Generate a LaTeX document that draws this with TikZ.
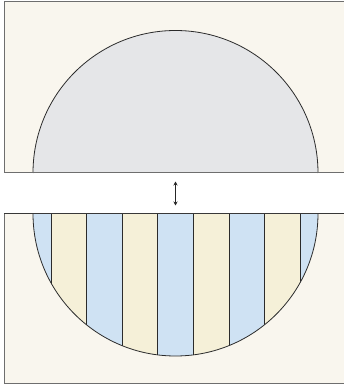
\documentclass[tikz,border=0pt]{standalone}
\usetikzlibrary{arrows.meta}
\definecolor{panelbg}{HTML}{F9F6EE}
\definecolor{panelline}{HTML}{6E6E6E}
\definecolor{greyfill}{HTML}{E5E6E8}
\definecolor{stripeblue}{HTML}{CFE2F3}
\definecolor{stripeyellow}{HTML}{F5F0D8}
\definecolor{outline}{HTML}{2B2B2B}
\tikzset{
  panel/.style={fill=panelbg, draw=panelline, line width=1pt},
  halfdisc/.style={draw=outline, line width=0.8pt},
  stripeline/.style={draw=outline, line width=0.8pt},
  gaparrow/.style={{Stealth[length=4pt,width=4pt]}-{Stealth[length=4pt,width=4pt]}, line width=0.6pt, draw=black!85}
}
\begin{document}
\begin{tikzpicture}[x=1pt,y=1pt]
\clip (0,0) rectangle (344,389);
\fill[white] (0,0) rectangle (344,389);
% top panel
\draw[panel] (4,216) rectangle (350,387);
\fill[greyfill] (33,216) arc[start angle=180,end angle=0,radius=142.5] -- cycle;
\draw[halfdisc] (33,216) arc[start angle=180,end angle=0,radius=142.5];
\draw[panelline, line width=1pt] (4,216) -- (350,216);
% bottom panel
\draw[panel] (4,5) rectangle (350,175.5);
\fill[stripeblue] (33,175.5) arc[start angle=180,end angle=360,radius=142.5] -- cycle;
\begin{scope}
  \clip (33,175.5) arc[start angle=180,end angle=360,radius=142.5] -- cycle;
  \foreach \a in {51.0,122.2,193.4,264.6}{
    \fill[stripeyellow] (\a,0) rectangle ({\a+35.6},200);
  }
  \foreach \a in {51.0,86.6,122.2,157.8,193.4,229.0,264.6,300.2}{
    \draw[stripeline] (\a,0) -- (\a,200);
  }
\end{scope}
\draw[halfdisc] (33,175.5) arc[start angle=180,end angle=360,radius=142.5];
\draw[outline!80!panelline, line width=1pt] (4,175.5) -- (350,175.5);
% arrow
\coordinate (gaptop) at (175.5,207.5);
\coordinate (gapbot) at (175.5,183.5);
\draw[gaparrow] (gaptop) -- (gapbot);
\end{tikzpicture}
\end{document}
